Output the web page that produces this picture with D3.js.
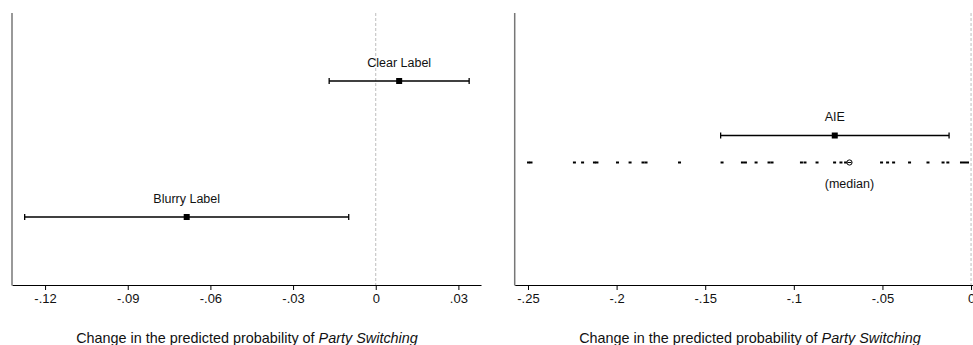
<!DOCTYPE html>
<html>
<head>
<meta charset="utf-8">
<script src="https://cdn.jsdelivr.net/npm/d3@7/dist/d3.min.js"></script>
<style>
  html, body { margin: 0; padding: 0; background: #fff; }
  svg { display: block; font-family: "Liberation Sans", Arial, Helvetica, sans-serif; }
</style>
</head>
<body>
<svg id="chart" width="973" height="345"></svg>
<script>
// ---------- data ----------
const leftCategories = ["Clear Label", "Blurry Label"];
const leftEstimates = [0.0085, -0.0686];
const leftLower = [-0.0169, -0.1274];
const leftUpper = [0.0339, -0.0098];
const leftTicks = [-0.12, -0.09, -0.06, -0.03, 0, 0.03];
const leftDomain = [-0.132, 0.0382];

const rightCategories = ["AIE"];
const rightEstimates = [-0.0769];
const rightLower = [-0.1413];
const rightUpper = [-0.0124];
const rightTicks = [-0.25, -0.2, -0.15, -0.1, -0.05, 0];
const rightDomain = [-0.2575, 0.0011];

const placeboEstimates = [
  -0.2497, -0.2483, -0.2238, -0.2192, -0.2125, -0.2111, -0.1995, -0.1924,
  -0.1851, -0.1834, -0.1645, -0.1405, -0.1290, -0.1273, -0.1213, -0.1140,
  -0.1123, -0.0957, -0.0937, -0.0869, -0.0770, -0.0734, -0.0708,
  -0.0505, -0.0471, -0.0437, -0.0347, -0.0243, -0.0158, -0.0131,
  -0.0054, -0.0037, -0.0020
];
const medianEstimate = -0.0686;
const medianLabel = "(median)";
const axisTitle = "Change in the predicted probability of ";
const axisTitleItalic = "Party Switching";

// ---------- helpers ----------
const svg = d3.select("#chart");
const fmt = v => {
  if (Math.abs(v) < 1e-12) return "0";
  let s = String(+v.toFixed(4));
  return s.replace(/^(-?)0\./, "$1.");
};
const fontSize = 12.5;
const tickFont = 13;
const titleFont = 14.4;
const plotTop = 13, plotBottom = 285;

function drawPanel(opts) {
  const g = svg.append("g");
  const x = d3.scaleLinear().domain(opts.domain).range([opts.x0, opts.x1]);

  // zero reference line
  g.append("line")
    .attr("x1", x(0)).attr("x2", x(0))
    .attr("y1", plotTop).attr("y2", plotBottom)
    .attr("stroke", "#bdbdbd").attr("stroke-width", 1)
    .attr("stroke-dasharray", "3,2");

  // x axis
  const axis = d3.axisBottom(x).tickValues(opts.ticks).tickFormat(fmt)
    .tickSize(5).tickSizeOuter(0).tickPadding(4);
  const ax = g.append("g").attr("transform", `translate(0,${plotBottom})`).call(axis);
  ax.select(".domain").attr("stroke", "#000").attr("stroke-width", 1.1);
  ax.selectAll(".tick line").attr("stroke", "#000").attr("stroke-width", 1);
  ax.selectAll(".tick text").attr("font-size", tickFont).attr("fill", "#111")
    .attr("font-family", "Liberation Sans, Arial, sans-serif");

  // y axis line
  g.append("line")
    .attr("x1", opts.x0).attr("x2", opts.x0)
    .attr("y1", plotTop).attr("y2", plotBottom + 0.5)
    .attr("stroke", "#777").attr("stroke-width", 1.5);

  // axis title
  const t = g.append("text")
    .attr("x", opts.titleX).attr("y", 343)
    .attr("text-anchor", "middle").attr("font-size", titleFont).attr("fill", "#111");
  t.append("tspan").text(axisTitle);
  t.append("tspan").attr("font-style", "italic").text(axisTitleItalic);

  return { g, x };
}

function drawEstimates(g, x, y, cats, est, lo, hi) {
  const rows = cats.map((c, i) => ({ c, e: est[i], l: lo[i], h: hi[i] }));
  const r = g.selectAll(".est").data(rows).join("g").attr("class", "est");
  r.append("line")
    .attr("x1", d => x(d.l)).attr("x2", d => x(d.h))
    .attr("y1", d => y(d.c)).attr("y2", d => y(d.c))
    .attr("stroke", "#000").attr("stroke-width", 1.3);
  r.append("line")
    .attr("x1", d => x(d.l)).attr("x2", d => x(d.l))
    .attr("y1", d => y(d.c) - 3).attr("y2", d => y(d.c) + 3)
    .attr("stroke", "#000").attr("stroke-width", 1.3);
  r.append("line")
    .attr("x1", d => x(d.h)).attr("x2", d => x(d.h))
    .attr("y1", d => y(d.c) - 3).attr("y2", d => y(d.c) + 3)
    .attr("stroke", "#000").attr("stroke-width", 1.3);
  r.append("rect")
    .attr("x", d => x(d.e) - 3).attr("y", d => y(d.c) - 3)
    .attr("width", 6).attr("height", 6).attr("fill", "#000");
  r.append("text")
    .attr("x", d => x(d.e)).attr("y", d => y(d.c) - 14.5)
    .attr("text-anchor", "middle").attr("font-size", fontSize).attr("fill", "#111")
    .text(d => d.c);
}

// ---------- left panel ----------
const L = drawPanel({ domain: leftDomain, x0: 12, x1: 481, ticks: leftTicks, titleX: 247 });
const yL = d3.scalePoint().domain(leftCategories).range([plotTop, plotBottom]).padding(0.5);
drawEstimates(L.g, L.x, yL, leftCategories, leftEstimates, leftLower, leftUpper);

// ---------- right panel ----------
const R = drawPanel({ domain: rightDomain, x0: 514.7, x1: 973, ticks: rightTicks, titleX: 750 });
const rowKeys = ["AIE", "placebo"];
const yR = d3.scalePoint().domain(rowKeys).range([plotTop, plotBottom]).padding(4.54);
drawEstimates(R.g, R.x, yR, rightCategories, rightEstimates, rightLower, rightUpper);

const yStrip = yR("placebo");
R.g.selectAll(".rug").data(placeboEstimates).join("rect").attr("class", "rug")
  .attr("x", d => R.x(d) - 1.5).attr("y", yStrip - 1)
  .attr("width", 3).attr("height", 2).attr("fill", "#000");

R.g.append("circle")
  .attr("cx", R.x(medianEstimate)).attr("cy", yStrip).attr("r", 2.6)
  .attr("fill", "#fff").attr("stroke", "#000").attr("stroke-width", 1);
R.g.append("line")
  .attr("x1", R.x(medianEstimate) - 2).attr("x2", R.x(medianEstimate) + 2)
  .attr("y1", yStrip).attr("y2", yStrip)
  .attr("stroke", "#000").attr("stroke-width", 1);
R.g.append("text")
  .attr("x", R.x(medianEstimate)).attr("y", yStrip + 25.5)
  .attr("text-anchor", "middle").attr("font-size", fontSize).attr("fill", "#111")
  .text(medianLabel);
</script>
</body>
</html>
